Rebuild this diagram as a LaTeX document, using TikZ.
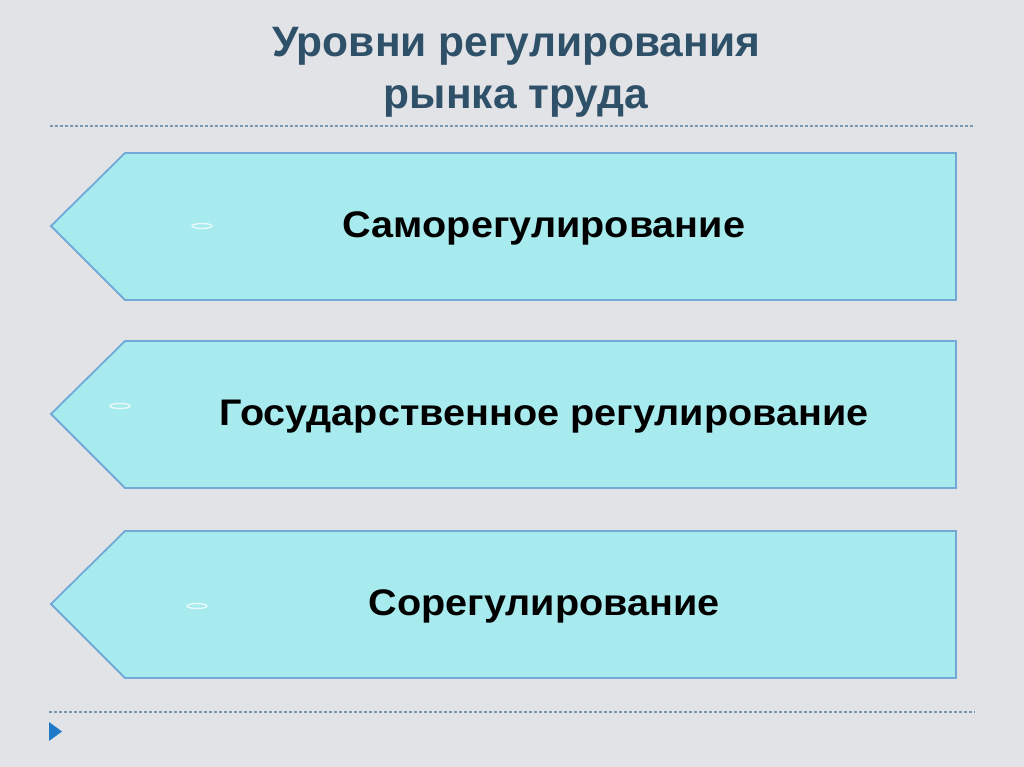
\documentclass[tikz,border=0pt]{standalone}
\usepackage{fontspec}
\setmainfont{Liberation Sans}
\newfontfamily\widefont[FakeStretch=1.07]{Liberation Sans}
\usetikzlibrary{positioning}

\definecolor{bgcol}{HTML}{E1E3E6}
\definecolor{titlecol}{HTML}{2E5068}
\definecolor{boxfill}{HTML}{A8EBEE}
\definecolor{boxline}{HTML}{72A9D6}
\definecolor{dashcol}{HTML}{7896B0}
\definecolor{markcol}{HTML}{1F78C8}

\begin{document}
\begin{tikzpicture}[x=1pt,y=-1pt,
    titletext/.style={anchor=base,text=titlecol,font=\bfseries\fontsize{42.5}{50}\selectfont},
    leveltext/.style={anchor=base,text=black,font=\widefont\bfseries\fontsize{37}{44}\selectfont},
    levelbox/.style={draw=boxline,fill=boxfill,line width=1.8pt,line join=miter},
    divider/.style={draw=dashcol,line width=1.1pt,dash pattern=on 3pt off 2pt},
    glint/.style={draw=white,opacity=0.7,line width=1.4pt}]
      % background
      \fill[bgcol] (0,0) rectangle (1024,767);
      \useasboundingbox (0,0) rectangle (1024,767);

      % title
      \node[titletext] (title) at (516,57) {Уровни регулирования};
      \node[titletext] (subtitle) at (516,109) {рынка труда};
      \draw[divider] (50,126) -- (975,126);

      % level boxes
      \draw[levelbox] (51,226) -- (125,153) -- (956,153) -- (956,300) -- (125,300) -- cycle;
      \draw[levelbox] (51,414) -- (125,341) -- (956,341) -- (956,488) -- (125,488) -- cycle;
      \draw[levelbox] (51,604) -- (125,531) -- (956,531) -- (956,678) -- (125,678) -- cycle;

      % small glints
      \draw[glint] (202,226) ellipse (10 and 2.5);
      \draw[glint] (120,406) ellipse (10 and 2.5);
      \draw[glint] (197,606) ellipse (10 and 2.5);

      % level labels
      \node[leveltext] (self) at (544,237) {Саморегулирование};
      \node[leveltext] (state) at (544,425) {Государственное регулирование};
      \node[leveltext] (co) at (544,615) {Сорегулирование};

      % bottom divider and marker
      \draw[divider] (49,712) -- (975,712);
      \fill[markcol] (49,722) -- (62,731.5) -- (49,741) -- cycle;
\end{tikzpicture}
\end{document}
